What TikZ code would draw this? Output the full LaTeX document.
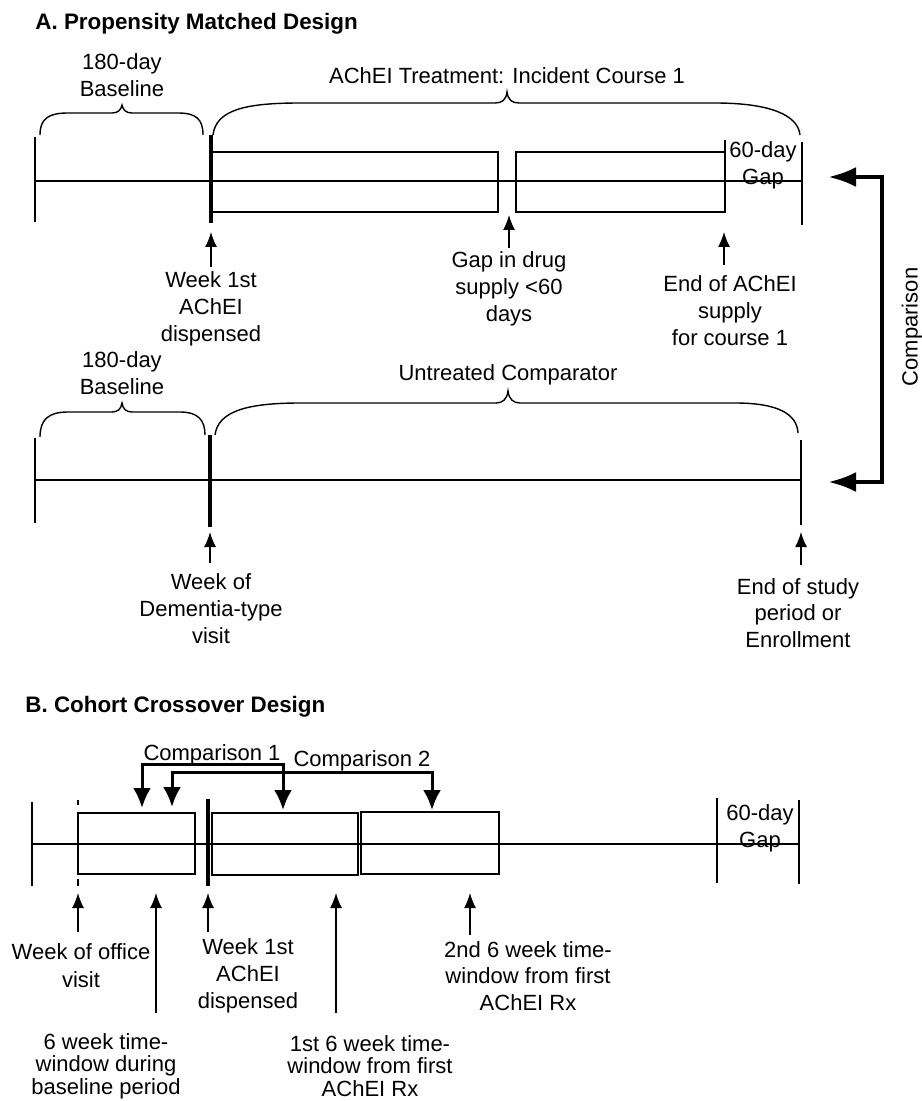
\documentclass[tikz,border=0pt]{standalone}
\usepackage{fontspec}
\setmainfont{Liberation Sans}
\usetikzlibrary{arrows.meta}
\begin{document}
\begin{tikzpicture}[x=0.5pt,y=-0.5pt,
  lab/.style={font=\fontsize{11}{13.5}\selectfont, align=center, inner sep=0pt, anchor=north},
  labt/.style={font=\fontsize{11}{11.2}\selectfont, align=center, inner sep=0pt, anchor=north},
  ttl/.style={font=\fontsize{11.2}{13.5}\selectfont\bfseries, inner sep=0pt, anchor=base west},
  tline/.style={line width=0.6pt},
  tlineb/.style={line width=0.85pt},
  bx/.style={line width=0.8pt},
  tk/.style={line width=1.8pt},
  brc/.style={line width=0.7pt},
  upar/.style={line width=0.65pt, -{Latex[length=7.5pt,width=6pt]}},
  cmpar/.style={line width=2.2pt, {Latex[length=14pt,width=10pt]}-{Latex[length=14pt,width=10pt]}},
  cbar/.style={line width=1.5pt, {Latex[length=10pt,width=9pt]}-{Latex[length=10pt,width=9pt]}}
]
\useasboundingbox (0,0) rectangle (921,1101);

% ---------------- titles
\node[ttl] (tA) at (35,29.5) {A. Propensity Matched Design};
\node[ttl] (tB) at (25,712) {B. Cohort Crossover Design};

% ---------------- Panel A, treated timeline
\draw[tline] (35,181) -- (802,181);
\draw[tline] (35,137) -- (35,222);
\draw[tk] (211,135) -- (211,223);
\draw[bx] (212,152) rectangle (498,212);
\draw[bx] (516,152) rectangle (725,212);
\draw[tline] (725,140) -- (725,152);
\draw[tline] (802,142) -- (802,225);
\node[lab] (gapA) at (763,141) {60-day\\Gap};

% braces
\draw[brc] (40,135) .. controls (40,119) and (48,113) .. (68,113) -- (112,113)
  .. controls (118,113) and (121,110) .. (122,105)
  .. controls (123,110) and (126,113) .. (132,113) -- (178,113)
  .. controls (196,113) and (203,119) .. (203,135);
\node[lab] (bl1) at (122,53) {180-day\\Baseline};

\draw[brc] (213,135) .. controls (216,110) and (245,103) .. (300,103) -- (495,103)
  .. controls (502,103) and (506,100) .. (507,92)
  .. controls (508,100) and (512,103) .. (519,103) -- (715,103)
  .. controls (770,103) and (798,115) .. (800,135);
\node[lab] (achA) at (507,67) {AChEI Treatment: Incident Course 1};

% labels and arrows
\node[lab] (wk1A) at (211,271) {Week 1st\\AChEI\\dispensed};
\node[lab] (gapdrug) at (509,251) {Gap in drug\\supply <60\\days};
\node[lab] (endA) at (730,275) {End of AChEI\\supply\\for course 1};
\coordinate (pa1) at (211,232);
\coordinate (pa2) at (509,215);
\coordinate (pa3) at (724,232);
\draw[upar] (wk1A.north -| pa1) ++(0,-4) -- (pa1);
\draw[upar] (gapdrug.north -| pa2) ++(0,-3) -- (pa2);
\draw[upar] (endA.north -| pa3) ++(0,-10) -- (pa3);

% ---------------- Panel A, comparator timeline
\draw[tline] (35,480) -- (211,480);
\draw[tlineb] (211,480) -- (801,480);
\draw[tline] (35,438) -- (35,523);
\draw[tk] (210,435) -- (210,527);
\draw[tline] (801,440) -- (801,525);

\draw[brc] (40,437) .. controls (40,420) and (48,412) .. (68,412) -- (112,412)
  .. controls (118,412) and (121,409) .. (122,403)
  .. controls (123,409) and (126,412) .. (132,412) -- (180,412)
  .. controls (198,412) and (205,420) .. (205,435);
\node[lab] (bl2) at (122,351) {180-day\\Baseline};

\draw[brc] (215,435) .. controls (218,412) and (245,403) .. (300,403) -- (496,403)
  .. controls (503,403) and (507,399) .. (508,391)
  .. controls (509,399) and (513,403) .. (520,403) -- (735,403)
  .. controls (780,403) and (797,415) .. (798,433);
\node[lab] (untr) at (508,364) {Untreated Comparator};

\node[lab] (dem) at (211,573) {Week of\\Dementia-type\\visit};
\node[lab, font=\fontsize{11}{13.2}\selectfont] (eos) at (798,578) {End of study\\period or\\Enrollment};
\coordinate (pa4) at (210,532);
\coordinate (pa5) at (801,532);
\draw[upar] (dem.north -| pa4) ++(0,-10) -- (pa4);
\draw[upar] (eos.north -| pa5) ++(0,-13) -- (pa5);

% comparison bracket
\coordinate (cA1) at (828,177);
\coordinate (cA2) at (828,482);
\draw[cmpar] (cA1) -- (882,177) -- (882,482) -- (cA2);
\node[font=\fontsize{11}{13.5}\selectfont, rotate=90, inner sep=0pt] (cmpA) at (912,327) {Comparison};

% ---------------- Panel B
\draw[tline] (33,844) -- (799,844);
\draw[tline] (32,802) -- (32,886);
\draw[tline] (78,800) -- (78,805);
\draw[tline] (78,879) -- (78,886);
\draw[bx] (78,813) rectangle (195,874);
\draw[tk] (208,799) -- (208,886);
\draw[bx] (212,813) rectangle (358,875);
\draw[bx] (361,812) rectangle (499,874);
\draw[tline] (717,798) -- (717,883);
\draw[tline] (799,800) -- (799,884);
\node[lab] (gapB) at (760,804) {60-day\\Gap};

\node[lab] (cmp1) at (212,744) {Comparison 1};
\node[lab] (cmp2) at (362,750) {Comparison 2};
\draw[cbar] (142,808) -- (142,764) -- (283,764) -- (283,810);
\draw[cbar] (172,807) -- (172,772) -- (432,772) -- (432,810);

\node[lab, font=\fontsize{11}{14}\selectfont] (office) at (81,943) {Week of office\\visit};
\node[labt] (six) at (106,1033) {6 week time-\\window during\\baseline period};
\node[lab] (wk1B) at (248,938) {Week 1st\\AChEI\\dispensed};
\node[labt] (first6) at (370,1035) {1st 6 week time-\\window from first\\AChEI Rx};
\node[lab, font=\fontsize{11}{13.2}\selectfont] (second6) at (528,941) {2nd 6 week time-\\window from first\\AChEI Rx};
\coordinate (pb1) at (78,893);
\coordinate (pb2) at (156,893);
\coordinate (pb3) at (208,893);
\coordinate (pb4) at (336,893);
\coordinate (pb5) at (470,893);
\draw[upar] (office.north -| pb1) ++(0,-11) -- (pb1);
\draw[upar] (six.north -| pb2) ++(0,-20) -- (pb2);
\draw[upar] (wk1B.north -| pb3) ++(0,-6) -- (pb3);
\draw[upar] (first6.north -| pb4) ++(0,-22) -- (pb4);
\draw[upar] (second6.north -| pb5) ++(0,-6) -- (pb5);
\end{tikzpicture}
\end{document}
